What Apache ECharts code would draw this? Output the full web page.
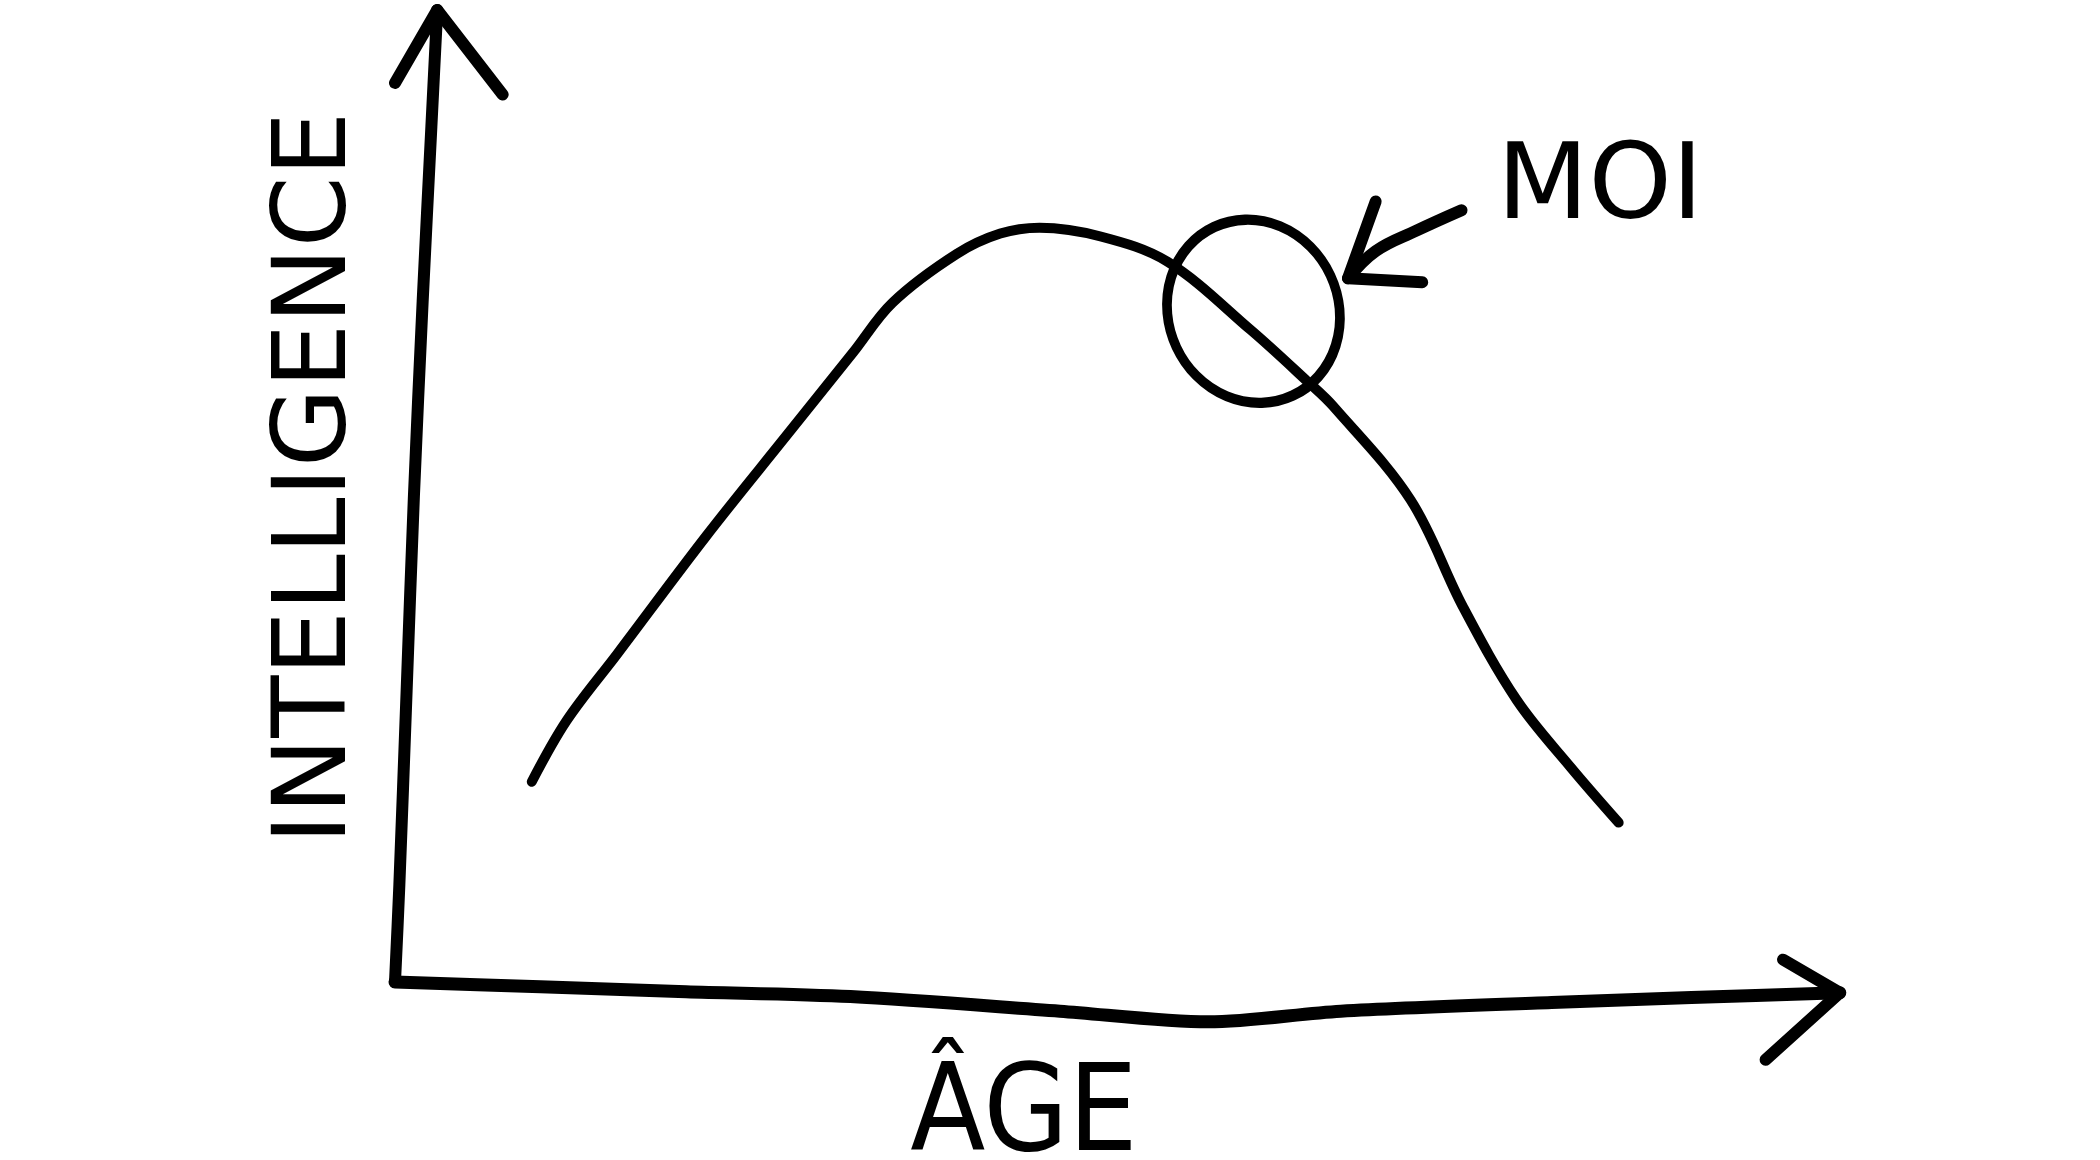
<!DOCTYPE html>
<html>
<head>
<meta charset="utf-8">
<title>Intelligence / Âge</title>
<script src="https://cdn.jsdelivr.net/npm/echarts@6/dist/echarts.min.js"></script>
<style>
    html, body { margin: 0; padding: 0; background: #fff; }
    #mychart { width: 2100px; height: 1160px; }
</style>
</head>
<body>
<div id="mychart"></div>
<script>
"use strict";
// the curve: age (0-100) against intelligence (0-100)
const ages = [9.4, 11.8, 15.3, 21.4, 26.9, 31.5, 34.2, 38.6, 41.6, 44.3,
    48.5, 53.1, 58.8, 62.7, 64.5, 69.8, 73.4, 77.1, 80.8, 84.1];
const intelligence = [20.6, 26.9, 33.8, 45.9, 56.2, 64.8, 69.9, 74.9, 77.0, 77.6,
    76.7, 74.1, 67.1, 61.8, 59.2, 49.6, 38.6, 29.0, 22.1, 16.4];
// "moi" circle on the curve
const moiPoint = [59.0, 69.0];
// hand drawn axes (age, intelligence)
const xAxisStroke = [[0, 0], [10, -0.5], [20, -1.0], [31.3, -1.5], [45.7, -3.0],
    [55.9, -4.1], [65.0, -3.0], [79.5, -2.1], [89.1, -1.6], [99.3, -1.1]];
const xAxisHead = [[95.4, 2.3], [99.3, -1.1], [94.2, -8.0]];
const yAxisStroke = [[0, 0], [0.3, 10], [0.8, 30], [1.3, 50], [1.9, 70], [2.5, 88], [2.9, 100]];
const yAxisHead = [[0, 92.5], [2.9, 100], [7.4, 91.3]];
// arrow pointing at the circle
const pointerShaft = [[73.3, 79.4], [70.2, 77.3], [67.4, 75.2], [65.5, 72.4]];
const pointerHead = [[67.4, 80.3], [65.5, 72.4], [70.6, 72.0]];
// texts
const xName = 'ÂGE';
const yName = 'INTELLIGENCE';
const moiLabel = 'MOI';

const container = document.getElementById('mychart');
const myChart = echarts.init(container);

function stroke(data, width, smooth) {
    return {
        type: 'line',
        data: data,
        smooth: smooth,
        showSymbol: false,
        clip: false,
        silent: true,
        lineStyle: {
            color: '#000',
            width: width,
            cap: 'round',
            join: 'round'
        }
    };
}

const curve = ages.map((age, i) => [age, intelligence[i]]);
const font = '"DejaVu Sans", sans-serif';

const option = {
    backgroundColor: '#fff',
    animation: false,
    grid: {
        left: 395,
        top: 10,
        width: 1455,
        height: 972
    },
    xAxis: {
        type: 'value',
        min: 0,
        max: 100,
        show: false
    },
    yAxis: {
        type: 'value',
        min: 0,
        max: 100,
        show: false
    },
    series: [
        stroke(curve, 10, 0.35),
        stroke(xAxisStroke, 13, 0.3),
        stroke(xAxisHead, 12, false),
        stroke(yAxisStroke, 12, 0.3),
        stroke(yAxisHead, 12, false),
        stroke(pointerShaft, 12, 0.4),
        stroke(pointerHead, 12, false),
        {
            type: 'scatter',
            data: [moiPoint],
            symbol: 'circle',
            symbolSize: [170, 186],
            symbolRotate: 25,
            clip: false,
            silent: true,
            itemStyle: {
                color: 'rgba(0,0,0,0)',
                borderColor: '#000',
                borderWidth: 10,
                opacity: 1
            }
        }
    ],
    graphic: [
        {
            type: 'text',
            x: 1024,
            y: 1118,
            style: {
                text: xName,
                font: '122px "DejaVu Sans Condensed", sans-serif',
                fill: '#000',
                align: 'center',
                verticalAlign: 'middle'
            }
        },
        {
            type: 'text',
            x: 318,
            y: 478,
            rotation: Math.PI / 2,
            style: {
                text: yName,
                font: '102px ' + font,
                fill: '#000',
                align: 'center',
                verticalAlign: 'middle'
            }
        },
        {
            type: 'text',
            x: 1600,
            y: 190,
            style: {
                text: moiLabel,
                font: '106px ' + font,
                fill: '#000',
                align: 'center',
                verticalAlign: 'middle'
            }
        }
    ]
};
myChart.setOption(option);
</script>
</body>
</html>
